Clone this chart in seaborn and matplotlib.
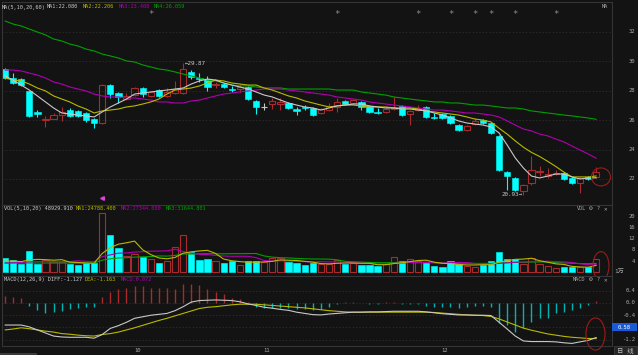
import numpy as np
import pandas as pd
import matplotlib
matplotlib.use("Agg")
import matplotlib.pyplot as plt
import seaborn as sns
from matplotlib.patches import Rectangle, Ellipse
from matplotlib.transforms import blended_transform_factory as blend

# ---------------- data ----------------
opens = [29.48, 28.87, 28.80, 27.99, 26.56, 26.01, 26.08, 26.35, 26.69, 26.63,
         26.49, 26.08, 25.81, 28.39, 27.85, 27.44, 27.71, 28.19, 27.65, 28.05,
         27.65, 27.85, 27.85, 29.28, 28.87, 28.80, 28.39, 28.46, 28.12, 28.12,
         28.26, 27.31, 26.90, 27.10, 27.10, 27.17, 26.76, 26.90, 26.83, 26.49,
         26.69, 26.90, 27.31, 27.17, 27.24, 26.97, 26.56, 26.56, 26.76, 26.97,
         26.42, 26.69, 26.90, 26.22, 26.42, 26.29, 25.67, 25.33, 25.74, 26.01,
         25.81, 24.93, 22.48, 22.07, 21.18, 21.73, 22.48, 22.20, 22.34, 22.41,
         22.07, 21.73, 22.14, 22.14]
highs = [29.55, 29.21, 28.87, 28.00, 26.69, 26.29, 26.49, 26.90, 26.83, 26.69,
         26.56, 26.15, 28.46, 28.46, 27.92, 27.85, 28.26, 28.26, 27.99, 28.12,
         28.19, 28.67, 29.87, 29.41, 29.21, 29.01, 28.60, 28.53, 28.33, 28.46,
         28.33, 27.37, 27.17, 27.51, 27.51, 27.24, 26.90, 27.03, 26.90, 26.83,
         27.17, 27.51, 27.37, 27.44, 27.31, 27.03, 26.83, 26.83, 27.58, 27.03,
         26.69, 27.03, 26.97, 26.49, 26.49, 26.35, 25.74, 25.67, 26.15, 26.08,
         25.88, 24.99, 22.54, 22.14, 21.66, 23.56, 22.88, 22.75, 22.61, 22.48,
         22.14, 22.14, 22.20, 22.82]
lows = [28.80, 28.46, 28.33, 26.22, 26.22, 25.54, 26.05, 25.95, 26.25, 26.22,
        25.88, 25.47, 25.74, 27.51, 27.17, 27.37, 27.65, 27.58, 27.58, 27.58,
        27.58, 27.78, 27.80, 28.80, 28.60, 27.99, 28.19, 28.19, 27.92, 27.92,
        27.37, 26.42, 26.69, 26.76, 26.69, 26.76, 26.35, 26.69, 26.29, 26.42,
        26.63, 26.56, 27.03, 27.10, 26.69, 26.49, 26.42, 26.49, 26.69, 26.29,
        25.67, 26.63, 26.15, 26.08, 26.08, 25.74, 25.27, 25.27, 25.67, 25.74,
        25.06, 22.54, 21.25, 21.18, 20.93, 21.59, 22.20, 22.07, 22.27, 21.93,
        21.66, 21.05, 21.93, 22.07]
closes = [28.87, 28.53, 28.39, 26.29, 26.42, 26.08, 26.35, 26.56, 26.29, 26.29,
          26.01, 25.81, 28.39, 27.78, 27.58, 27.65, 28.19, 27.78, 27.92, 27.65,
          27.92, 28.12, 29.48, 28.94, 28.80, 28.26, 28.46, 28.26, 28.05, 28.26,
          27.44, 26.90, 26.90, 27.31, 27.24, 26.83, 26.63, 26.83, 26.35, 26.76,
          26.97, 27.24, 27.10, 27.37, 26.90, 26.56, 26.49, 26.76, 26.83, 26.35,
          26.63, 26.83, 26.22, 26.15, 26.15, 25.81, 25.33, 25.61, 25.95, 25.81,
          25.13, 22.61, 22.20, 21.25, 21.59, 22.61, 22.54, 22.34, 22.41, 22.00,
          21.73, 22.07, 22.00, 22.48]

ma5 = [29.01, 28.73, 28.39, 28.05, 27.65, 27.24, 26.83, 26.49, 26.42, 26.35,
       26.29, 26.22, 26.56, 26.90, 27.17, 27.44, 27.78, 27.85, 27.92, 27.99,
       28.05, 28.12, 28.19, 28.46, 28.67, 28.80, 28.73, 28.53, 28.39, 28.26,
       28.12, 27.92, 27.71, 27.58, 27.37, 27.17, 27.03, 26.90, 26.83, 26.69,
       26.83, 26.97, 27.03, 27.10, 27.10, 26.97, 26.90, 26.83, 26.83, 26.76,
       26.76, 26.69, 26.63, 26.49, 26.35, 26.15, 25.95, 25.81, 25.74, 25.67,
       25.54, 25.13, 24.31, 23.43, 22.75, 22.20, 22.07, 22.20, 22.34, 22.34,
       22.14, 22.00, 22.07, 22.080]
ma10 = [28.87, 28.73, 28.67, 28.46, 28.19, 27.99, 27.65, 27.44, 27.24, 26.97,
        26.76, 26.49, 26.63, 26.69, 26.76, 26.90, 26.97, 27.10, 27.24, 27.44,
        27.78, 28.05, 28.12, 28.19, 28.33, 28.53, 28.73, 28.67, 28.53, 28.46,
        28.39, 28.39, 28.19, 28.05, 27.85, 27.65, 27.51, 27.31, 27.17, 27.03,
        26.90, 26.97, 27.03, 27.03, 26.97, 26.90, 26.90, 26.90, 26.83, 26.83,
        26.83, 26.76, 26.63, 26.56, 26.49, 26.42, 26.35, 26.22, 26.08, 26.01,
        25.88, 25.45, 25.05, 24.59, 24.16, 23.81, 23.53, 23.20, 22.85, 22.47,
        22.14, 22.14, 22.14, 22.206]
ma20 = [29.41, 29.41, 29.35, 29.21, 29.07, 28.87, 28.60, 28.46, 28.26, 28.12,
        27.99, 27.78, 27.65, 27.58, 27.58, 27.51, 27.51, 27.44, 27.37, 27.24,
        27.24, 27.17, 27.17, 27.31, 27.37, 27.51, 27.65, 27.78, 27.85, 27.92,
        27.99, 28.05, 28.12, 28.12, 28.12, 28.05, 27.99, 27.92, 27.85, 27.78,
        27.71, 27.58, 27.51, 27.44, 27.37, 27.24, 27.17, 27.10, 27.03, 26.97,
        26.90, 26.83, 26.76, 26.69, 26.69, 26.63, 26.56, 26.49, 26.49, 26.42,
        26.35, 26.22, 25.95, 25.67, 25.40, 25.27, 25.06, 24.93, 24.72, 24.52,
        24.24, 23.97, 23.70, 23.408]
ma60 = [32.75, 32.54, 32.41, 32.20, 32.00, 31.80, 31.52, 31.39, 31.18, 31.05,
        30.84, 30.71, 30.50, 30.37, 30.23, 30.03, 29.96, 29.76, 29.62, 29.48,
        29.41, 29.28, 29.14, 29.01, 28.87, 28.73, 28.67, 28.53, 28.39, 28.33,
        28.33, 28.26, 28.19, 28.19, 28.19, 28.12, 28.12, 28.12, 28.12, 28.12,
        28.12, 28.05, 28.05, 28.05, 27.92, 27.85, 27.78, 27.71, 27.58, 27.51,
        27.44, 27.37, 27.31, 27.24, 27.24, 27.17, 27.17, 27.10, 27.03, 27.03,
        26.97, 26.90, 26.83, 26.83, 26.76, 26.63, 26.56, 26.49, 26.42, 26.35,
        26.29, 26.22, 26.15, 26.059]

# volume in units of 1万 (10,000)
volume = [5.2, 4.4, 2.8, 7.6, 3.1, 4.4, 3.8, 3.8, 3.0, 2.7,
          3.2, 3.4, 21.2, 13.3, 8.8, 5.8, 6.5, 5.6, 4.6, 3.2,
          4.0, 9.1, 13.3, 7.1, 4.4, 4.9, 4.0, 3.2, 4.1, 2.6,
          4.0, 4.0, 3.7, 5.0, 5.2, 3.8, 3.2, 2.5, 3.4, 2.8,
          3.0, 4.4, 2.8, 3.4, 2.6, 2.6, 2.3, 2.8, 5.4, 4.0,
          4.6, 4.0, 3.4, 2.2, 1.8, 4.0, 2.8, 2.3, 2.0, 2.6,
          4.0, 7.1, 4.7, 4.7, 3.1, 5.2, 3.0, 2.2, 1.5, 1.9,
          1.8, 1.9, 1.9, 4.892991]
vol_ma5 = [4.0, 4.0, 3.8, 4.4, 4.6, 4.5, 4.3, 4.5, 3.6, 3.5,
           3.3, 3.2, 6.7, 8.8, 10.0, 10.5, 11.1, 8.0, 6.3, 5.1,
           4.8, 5.3, 6.8, 7.3, 7.6, 7.8, 6.7, 4.7, 4.1, 3.8,
           3.6, 3.6, 3.7, 3.9, 4.4, 4.3, 4.2, 3.9, 3.6, 3.1,
           3.0, 3.2, 3.3, 3.3, 3.2, 3.2, 2.7, 2.7, 3.1, 3.4,
           3.8, 4.2, 4.3, 3.6, 3.2, 3.1, 2.8, 2.6, 2.6, 2.7,
           2.7, 3.6, 4.1, 4.6, 4.7, 5.0, 4.1, 3.6, 3.0, 2.8,
           2.1, 1.9, 1.8, 2.47884]
vol_ma10 = [3.3, 3.4, 3.5, 3.7, 3.8, 3.8, 3.8, 3.8, 3.8, 4.1,
            3.9, 3.8, 5.6, 6.2, 6.8, 6.9, 7.2, 7.35, 7.5, 7.56,
            7.64, 8.2, 7.4, 6.8, 6.4, 6.3, 6.0, 5.8, 5.7, 5.7,
            5.7, 5.2, 4.2, 4.0, 4.1, 4.0, 3.9, 3.8, 3.7, 3.8,
            3.7, 3.7, 3.6, 3.45, 3.2, 3.1, 3.0, 3.0, 3.2, 3.3,
            3.5, 3.45, 3.5, 3.4, 3.3, 3.45, 3.5, 3.45, 3.1, 3.0,
            2.9, 3.2, 3.35, 3.6, 3.7, 3.85, 3.9, 3.9, 3.8, 3.7,
            3.5, 3.0, 2.7, 2.7344]
vol_ma20 = [3.3, 3.3, 3.3, 3.3, 3.3, 3.3, 3.3, 3.3, 3.3, 3.3,
            3.3, 3.3, 4.3, 4.8, 5.1, 5.2, 5.4, 5.5, 5.6, 5.82,
            5.76, 6.0, 6.52, 6.5, 6.56, 6.59, 6.6, 6.57, 6.62, 6.62,
            6.66, 6.69, 5.81, 5.4, 5.2, 5.1, 4.95, 4.8, 4.74, 4.72,
            4.67, 4.43, 3.9, 3.72, 3.63, 3.52, 3.43, 3.41, 3.48, 3.55,
            3.58, 3.58, 3.56, 3.42, 3.25, 3.26, 3.24, 3.23, 3.16, 3.15,
            3.2, 3.34, 3.43, 3.5, 3.52, 3.65, 3.69, 3.66, 3.46, 3.36,
            3.22, 3.11, 3.04, 3.1644801]

diff = [-0.72, -0.72, -0.72, -0.78, -0.88, -0.98, -1.08, -1.11, -1.12, -1.12,
        -1.12, -1.15, -1.03, -0.83, -0.74, -0.63, -0.50, -0.45, -0.40, -0.37,
        -0.34, -0.25, -0.12, 0.03, 0.08, 0.09, 0.10, 0.09, 0.08, 0.04,
        -0.03, -0.08, -0.14, -0.17, -0.21, -0.24, -0.30, -0.34, -0.38, -0.39,
        -0.36, -0.34, -0.32, -0.30, -0.30, -0.29, -0.29, -0.28, -0.27, -0.27,
        -0.27, -0.27, -0.29, -0.32, -0.35, -0.37, -0.39, -0.39, -0.40, -0.40,
        -0.41, -0.63, -0.85, -1.08, -1.24, -1.26, -1.26, -1.26, -1.27, -1.30,
        -1.32, -1.27, -1.22, -1.127]
dea = [-0.88, -0.85, -0.81, -0.84, -0.88, -0.92, -0.95, -1.00, -1.02, -1.05,
       -1.07, -1.08, -1.03, -1.00, -0.95, -0.88, -0.81, -0.73, -0.65, -0.57,
       -0.50, -0.42, -0.34, -0.26, -0.18, -0.14, -0.12, -0.09, -0.06, -0.04,
       -0.04, -0.04, -0.06, -0.08, -0.10, -0.12, -0.14, -0.16, -0.19, -0.22,
       -0.25, -0.27, -0.29, -0.30, -0.30, -0.30, -0.30, -0.30, -0.30, -0.30,
       -0.30, -0.30, -0.30, -0.31, -0.33, -0.35, -0.37, -0.39, -0.40, -0.41,
       -0.44, -0.52, -0.62, -0.72, -0.82, -0.89, -0.95, -1.01, -1.05, -1.09,
       -1.12, -1.14, -1.16, -1.163]
macd_hist = [0.24, 0.21, 0.15, -0.09, -0.23, -0.34, -0.28, -0.26, -0.21, -0.15,
             -0.14, -0.14, 0.19, 0.37, 0.45, 0.48, 0.56, 0.56, 0.50, 0.48,
             0.48, 0.46, 0.62, 0.62, 0.59, 0.45, 0.37, 0.29, 0.17, 0.13,
             0.02, -0.14, -0.17, -0.17, -0.15, -0.15, -0.20, -0.20, -0.23, -0.18,
             -0.14, -0.03, 0.02, 0.04, 0.01, -0.02, -0.02, 0.02, 0.03, -0.03,
             -0.04, -0.02, -0.09, -0.12, -0.12, -0.14, -0.17, -0.14, -0.09, -0.09,
             -0.14, -0.66, -0.72, -0.94, -0.83, -0.61, -0.50, -0.48, -0.34, -0.28,
             -0.23, -0.15, -0.07, 0.072]

star_idx = [18, 41, 51, 55, 58, 60, 63, 68]
month_labels = ["10", "11", "12"]
month_start = [16, 32, 54]
price_ticks = [32, 30, 28, 26, 24, 22]
vol_ticks = [20, 16, 12, 8, 4]
macd_ticks = [0.4, 0.0, -0.4, -1.2]
cursor_value = "0.58"
cursor_level = -0.8

n = len(closes)
for arr in (opens, highs, lows, ma5, ma10, ma20, ma60, volume, vol_ma5,
            vol_ma10, vol_ma20, diff, dea, macd_hist):
    assert len(arr) == n, len(arr)
idx = np.arange(n)

# ---------------- style ----------------
W, H = 638, 355
BG = "#131313"
GRID = "#2a2a2a"
AX = "#353535"
TXT = "#a8a8a8"
UP = "#a82a2c"
DN = "#00ffff"
DN_M = "#00b4b4"
C_MA5 = "#c8c8c8"
C_MA10 = "#b8b800"
C_MA20 = "#b000b0"
C_MA60 = "#00a000"
FS = 3.8

sns.set_theme(style="dark", rc={"axes.facecolor": BG, "figure.facecolor": BG,
                                 "axes.edgecolor": AX, "axes.linewidth": 0.8})
plt.rcParams["font.family"] = ["DejaVu Sans Mono", "DejaVu Sans", "Noto Sans CJK SC"]

fig = plt.figure(figsize=(W / 100, H / 100), dpi=100)


def rect(x0, y0, x1, y1):
    return [x0 / W, 1 - y1 / H, (x1 - x0) / W, (y1 - y0) / H]


def ftext(x, y, s, color=TXT, ha="left", size=FS, **kw):
    fig.text(x / W, 1 - y / H, s, color=color, ha=ha, va="center", fontsize=size, **kw)


ax_p = fig.add_axes(rect(2, 2, 612, 205))
ax_v = fig.add_axes(rect(2, 205, 612, 276))
ax_m = fig.add_axes(rect(2, 276, 612, 346))

XL = (-0.37, 74.94)
bw = 0.78

# ---------------- price panel ----------------
for lv in price_ticks:
    ax_p.axhline(lv, color=GRID, lw=0.6, ls=(0, (2, 2)), zorder=0)

for i in range(n):
    o, h, l, c = opens[i], highs[i], lows[i], closes[i]
    top, bot = max(o, c), min(o, c)
    if c > o:
        ax_p.vlines(i, top, h, color=UP, lw=0.8, zorder=2)
        ax_p.vlines(i, l, bot, color=UP, lw=0.8, zorder=2)
        ax_p.add_patch(Rectangle((i - bw / 2, bot), bw, top - bot, fill=False,
                                 ec=UP, lw=0.8, zorder=2))
    elif c < o:
        ax_p.vlines(i, l, h, color=DN, lw=0.8, zorder=2)
        ax_p.add_patch(Rectangle((i - bw / 2, bot), bw, max(top - bot, 0.04),
                                 fc=DN, ec=DN, lw=0.4, zorder=2))
    else:
        ax_p.vlines(i, l, h, color=C_MA5, lw=0.8, zorder=2)
        ax_p.hlines(o, i - bw / 2, i + bw / 2, color=C_MA5, lw=0.8, zorder=2)

df_p = pd.DataFrame({"i": idx, "ma5": ma5, "ma10": ma10, "ma20": ma20, "ma60": ma60})
for col, colr in (("ma60", C_MA60), ("ma20", C_MA20), ("ma10", C_MA10), ("ma5", C_MA5)):
    sns.lineplot(data=df_p, x="i", y=col, ax=ax_p, color=colr, lw=0.8,
                 legend=False, zorder=3)

bt_p = blend(ax_p.transData, ax_p.transAxes)
for s in star_idx:
    ax_p.text(s, 0.94, "*", transform=bt_p, color="#8c8c8c", fontsize=6.5,
              ha="center", va="center")
ax_p.text(22 + 0.15, highs[22], "\u2190" + f"{highs[22]:.2f}", color=C_MA5,
          fontsize=4.2, ha="left", va="center")
ax_p.text(64 - 0.15, lows[64], f"{lows[64]:.2f}" + "\u2192", color=C_MA5,
          fontsize=4.2, ha="right", va="center")
ax_p.plot([12], [0.034], marker="<", ms=2.6, color="#e040e0", transform=bt_p)
ax_p.add_patch(Ellipse((73.58, 22.14), 2.35, 1.22, fill=False, ec="#9a1c1c", lw=0.8,
                       zorder=4))

ax_p.set_xlim(*XL)
ax_p.set_ylim(20.23, 34.04)

# ---------------- volume panel ----------------
for i in range(n):
    if closes[i] >= opens[i]:
        ax_v.add_patch(Rectangle((i - bw / 2, 0), bw, volume[i], fill=False,
                                 ec=UP, lw=0.8, zorder=2))
    else:
        ax_v.add_patch(Rectangle((i - bw / 2, 0), bw, volume[i], fc=DN, ec=DN,
                                 lw=0.4, zorder=2))
df_v = pd.DataFrame({"i": idx, "m5": vol_ma5, "m10": vol_ma10, "m20": vol_ma20})
for col, colr in (("m20", C_MA60), ("m10", C_MA20), ("m5", C_MA10)):
    sns.lineplot(data=df_v, x="i", y=col, ax=ax_v, color=colr, lw=0.8,
                 legend=False, zorder=3)
ax_v.add_patch(Ellipse((73.58, 2.3), 1.98, 10.1, fill=False, ec="#9a1c1c", lw=0.8,
                       zorder=4, clip_on=False))
ax_v.set_xlim(*XL)
ax_v.set_ylim(-1.32, 23.95)

# ---------------- MACD panel ----------------
for lv in (0.4, 0.0, -0.4, -0.8, -1.2):
    ax_m.axhline(lv, color=GRID, lw=0.6, ls=(0, (2, 2)), zorder=0)
for i in range(n):
    v = macd_hist[i]
    ax_m.vlines(i, 0, v, color=UP if v > 0 else DN_M, lw=1.0, zorder=2)
df_m = pd.DataFrame({"i": idx, "diff": diff, "dea": dea})
sns.lineplot(data=df_m, x="i", y="dea", ax=ax_m, color=C_MA10, lw=0.8, legend=False, zorder=3)
sns.lineplot(data=df_m, x="i", y="diff", ax=ax_m, color=C_MA5, lw=0.8, legend=False, zorder=3)
ax_m.add_patch(Ellipse((72.9, -1.013), 2.35, 1.05, fill=False, ec="#9a1c1c", lw=0.8,
                       zorder=4, clip_on=False))
ax_m.set_xlim(*XL)
ax_m.set_ylim(-1.405, 0.882)

for ax in (ax_p, ax_v, ax_m):
    ax.set_xticks([])
    ax.set_yticks([])
    ax.set_xlabel("")
    ax.set_ylabel("")
    ax.grid(False)
    for sp in ax.spines.values():
        sp.set_color(AX)
        sp.set_linewidth(0.8)

# ---------------- texts ----------------
# main legend
ftext(2, 7, "MA(5,10,20,60)", C_MA5)
ftext(47, 7, f"MA1:{ma5[-1]:.3f}", C_MA5)
ftext(83, 7, f"MA2:{ma10[-1]:.3f}", C_MA10)
ftext(119, 7, f"MA3:{ma20[-1]:.3f}", C_MA20)
ftext(154, 7, f"MA4:{ma60[-1]:.3f}", C_MA60)
ftext(602, 7, "MA", TXT)

# volume legend
ftext(4, 208.5, f"VOL(5,10,20) {volume[-1] * 10000:.3f}", C_MA5)
ftext(76, 208.5, f"MA1:{vol_ma5[-1] * 10000:.3f}", C_MA10)
ftext(121, 208.5, f"MA2:{vol_ma10[-1] * 10000:.3f}", C_MA20)
ftext(166, 208.5, f"MA3:{vol_ma20[-1] * 10000:.3f}", C_MA60)
ftext(577, 208.5, "VOL", TXT)
ftext(591, 208.5, "\u2699", TXT, ha="center", size=4.6)
ftext(598, 208.5, "?", TXT, ha="center")
ftext(605, 208.5, "\u2715", TXT, ha="center", size=4.2)

# MACD legend
ftext(4, 279.5, f"MACD(12,26,9) DIFF:{diff[-1]:.3f}", C_MA5)
ftext(85, 279.5, f"DEA:{dea[-1]:.3f}", C_MA10)
ftext(121, 279.5, f"MACD:{macd_hist[-1]:.3f}", C_MA20)
ftext(573, 279.5, "MACD", TXT)
ftext(591, 279.5, "\u2699", TXT, ha="center", size=4.6)
ftext(598, 279.5, "?", TXT, ha="center")
ftext(605, 279.5, "\u2715", TXT, ha="center", size=4.2)

# right axis labels
for ax, ticks, fmt in ((ax_p, price_ticks, "{:d}"), (ax_v, vol_ticks, "{:d}"),
                       (ax_m, macd_ticks, "{:.1f}")):
    tr = blend(fig.transFigure, ax.transData)
    for t in ticks:
        ax.text(635 / W, t, fmt.format(t), transform=tr, color=TXT, fontsize=4.0,
                ha="right", va="center", clip_on=False)
ftext(614, 271, "1万", TXT, size=4.4)

# cursor box on MACD axis
ypx_cursor = ax_m.transData.transform((0, cursor_level))[1]
fig.patches.append(Rectangle((612 / W, ypx_cursor / H - 4 / H), 25 / W, 8 / H,
                             transform=fig.transFigure, fc="#1a5ad8", ec="none"))
fig.text(624.5 / W, ypx_cursor / H, cursor_value, color="white", fontsize=4.0,
         ha="center", va="center")

# bottom month labels
btm = blend(ax_m.transData, fig.transFigure)
for lab, st in zip(month_labels, month_start):
    ax_m.text(st - 0.1, 1 - 350 / H, lab, transform=btm, color=TXT, fontsize=4.0,
              ha="left", va="center", clip_on=False)

# bottom-right period box and scrollbar
fig.patches.append(Rectangle((614 / W, 1 - 355 / H), 23 / W, 9 / H,
                             transform=fig.transFigure, fc="#262626", ec="#3c3c3c", lw=0.6))
ftext(625.5, 351, "日 线", "#c0c0c0", ha="center", size=4.6)
fig.patches.append(Rectangle((0, 0), 37 / W, 2 / H, transform=fig.transFigure,
                             fc="#3a3a3a", ec="none"))

fig.savefig("out.png", dpi=100, facecolor=BG)
